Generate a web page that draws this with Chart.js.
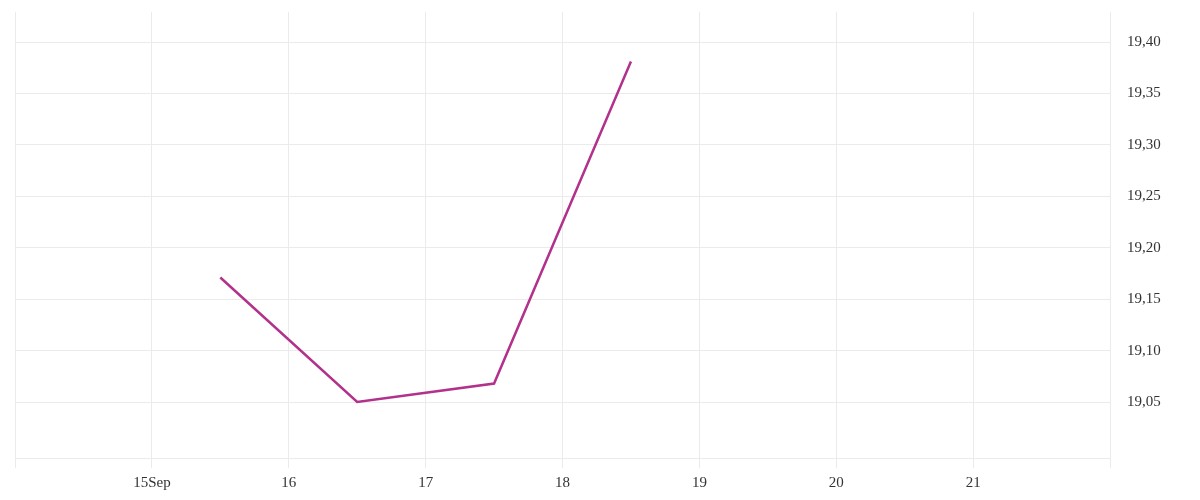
<!DOCTYPE html>
<html>
<head>
<meta charset="utf-8">
<script src="https://cdn.jsdelivr.net/npm/chart.js@4/dist/chart.umd.min.js"></script>
<style>
  body { margin: 0; background: #fff; }
  #wrap { width: 1200px; height: 500px; }
</style>
</head>
<body>
<div id="wrap"><canvas id="grafico"></canvas></div>
<script>
// dias de septiembre (mediodia de cada dia)
const dias = [15.5, 16.5, 17.5, 18.5];
const valores = [19.171, 19.05, 19.068, 19.381];

// etiquetas del eje x (14 y 22 sin texto)
const diasEje = [14, 15, 16, 17, 18, 19, 20, 21, 22];
const etiquetasEje = ['', '15Sep', '16', '17', '18', '19', '20', '21', ''];
const ticksY = [19.05, 19.10, 19.15, 19.20, 19.25, 19.30, 19.35, 19.40];

const grid = '#ebebeb';
const fuente = { family: 'Liberation Serif', size: 15 };

const ctx = document.getElementById('grafico').getContext('2d');
new Chart(ctx, {
  type: 'line',
  data: {
    datasets: [{
      data: dias.map((d, i) => ({ x: d, y: valores[i] })),
      borderColor: '#b2318a',
      borderWidth: 2.5,
      pointRadius: 0,
      tension: 0
    }]
  },
  options: {
    responsive: true,
    maintainAspectRatio: false,
    animation: false,
    layout: { padding: { left: 15, top: 12 } },
    plugins: { legend: { display: false }, tooltip: { enabled: false } },
    scales: {
      x: {
        type: 'linear',
        min: 14,
        max: 22,
        afterBuildTicks: ax => { ax.ticks = diasEje.map(v => ({ value: v })); },
        afterFit: ax => { ax.height = 42; ax.paddingLeft = 0; ax.paddingRight = 0; },
        grid: { color: grid, tickLength: 10 },
        border: { color: grid },
        ticks: {
          color: '#333',
          font: fuente,
          padding: 6,
          maxRotation: 0,
          autoSkip: false,
          callback: (v) => etiquetasEje[diasEje.indexOf(v)]
        }
      },
      y: {
        position: 'right',
        min: 18.99556,
        max: 19.42917,
        afterBuildTicks: ax => { ax.ticks = ticksY.map(v => ({ value: v })); },
        afterFit: ax => { ax.width = 90; ax.paddingTop = 0; ax.paddingBottom = 0; },
        grid: { color: grid, drawTicks: false },
        border: { color: grid },
        ticks: {
          color: '#333',
          font: fuente,
          padding: 17,
          callback: v => v.toFixed(2).replace('.', ',')
        }
      }
    }
  }
});
</script>
</body>
</html>
